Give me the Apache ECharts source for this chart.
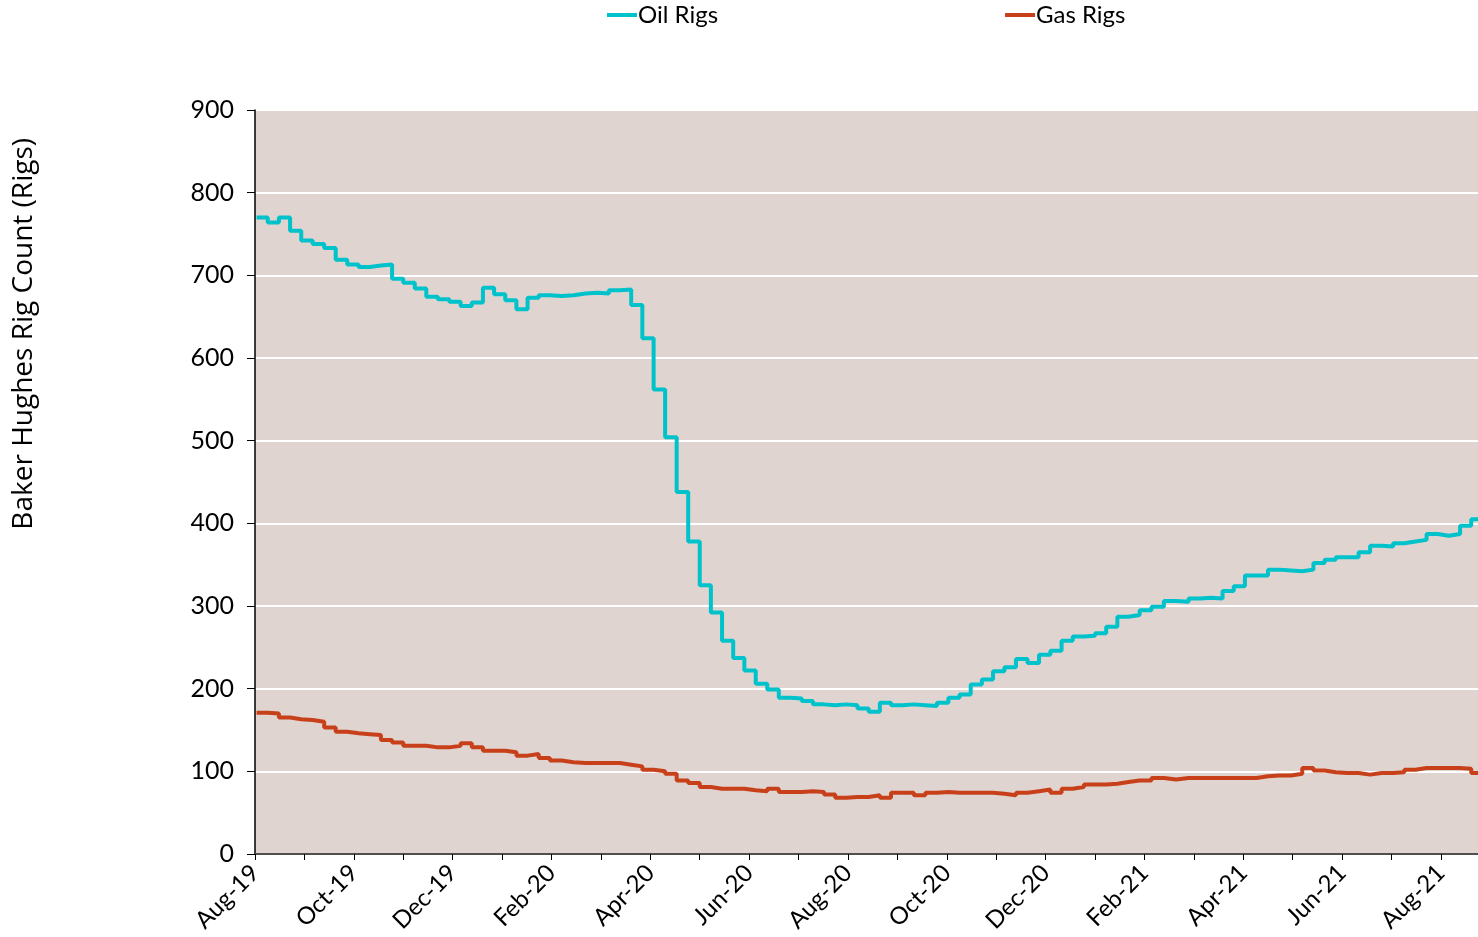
<!DOCTYPE html>
<html>
<head>
<meta charset="utf-8">
<script src="https://cdn.jsdelivr.net/npm/echarts@6/dist/echarts.min.js"></script>
<style>
html,body{margin:0;padding:0;background:#fff;}
#chart{width:1478px;height:937px;}
</style>
</head>
<body>
<div id="chart"></div>
<script>
// Weekly Baker Hughes report dates start Friday 2019-08-02, one value per week
var startDate = '2019-08-02';
var weekCount = 108;
var seriesNames = ['Oil Rigs', 'Gas Rigs'];
var oilRigs = [770,764,770,754,742,738,733,719,713,710,712,713,696,691,684,674,671,668,663,667,
  685,677,670,659,673,676,675,676,678,679,678,682,683,664,624,562,504,438,378,325,
  292,258,237,222,206,199,189,188,185,181,180,181,180,176,172,183,180,181,180,179,
  183,189,193,205,211,221,226,236,231,241,246,258,263,264,267,275,287,289,295,299,
  306,305,309,310,309,318,324,337,337,344,343,342,344,352,356,359,359,365,373,372,
  376,378,380,387,385,387,397,405];
var gasRigs = [171,170,165,163,162,160,153,148,146,145,144,138,135,131,131,129,129,131,134,129,
  125,125,123,119,121,116,113,111,110,110,110,110,108,106,102,100,97,89,86,81,
  79,79,79,77,76,79,75,75,76,75,72,68,69,69,71,68,74,74,71,74,
  75,74,74,74,74,73,71,74,76,78,74,79,81,84,84,85,87,89,89,92,
  90,92,92,92,92,92,92,92,94,95,95,97,104,101,99,98,98,96,98,98,
  99,102,104,104,104,104,103,98];
var monthNames = ['Jan','Feb','Mar','Apr','May','Jun','Jul','Aug','Sep','Oct','Nov','Dec'];
var yTicks = [0,100,200,300,400,500,600,700,800,900];
var axisStartYear = 2019, axisStartMonth = 7; // Aug-19 (0-based month)
var axisEndMonths = 24.75;

function daysInMonth(y, m) { return new Date(Date.UTC(y, m + 1, 0)).getUTCDate(); }
function monthPos(d) {
  var y = d.getUTCFullYear(), m = d.getUTCMonth(), day = d.getUTCDate();
  return (y - axisStartYear) * 12 + (m - axisStartMonth) + (day - 1) / daysInMonth(y, m);
}
var t0 = new Date(startDate + 'T00:00:00Z').getTime();
var xs = [];
for (var i = 0; i < weekCount; i++) xs.push(monthPos(new Date(t0 + i * 7 * 86400000)));
function pairs(vals) {
  var out = vals.map(function (v, i) { return [xs[i], v]; });
  // hold the latest weekly reading to the right edge of the plot
  out.push([axisEndMonths, vals[vals.length - 1]]);
  return out;
}

var chart = echarts.init(document.getElementById('chart'));
var fontMain = 'Lato, "Open Sans", sans-serif';
chart.setOption({
  animation: false,
  backgroundColor: '#ffffff',
  legend: {
    top: -2, left: 602,
    itemWidth: 30, itemHeight: 4, itemGap: 287,
    icon: 'rect',
    textStyle: { fontFamily: fontMain, fontSize: 24, color: '#000', padding: [0, 0, 0, -4] },
    data: seriesNames
  },
  grid: { left: 255, right: 0, top: 110, bottom: 83, containLabel: false,
          show: true, backgroundColor: '#dfd4d0', borderWidth: 0 },
  graphic: [{
    type: 'text', left: 10, top: 138, rotation: Math.PI / 2,
    style: { text: 'Baker Hughes Rig Count (Rigs)', fontFamily: '"Open Sans"', fontSize: 28, fill: '#000' }
  }],
  xAxis: [{
    type: 'value', min: 0, max: axisEndMonths, interval: 1,
    axisLine: { show: true, onZero: false, lineStyle: { color: '#000', width: 1.5 } },
    axisTick: { show: true, length: 6, lineStyle: { color: '#000', width: 1 } },
    splitLine: { show: false },
    axisLabel: {
      rotate: 45, margin: 15, fontFamily: fontMain, fontSize: 24, color: '#000',
      showMaxLabel: false,
      formatter: function (v) {
        if (Math.abs(v - Math.round(v)) > 1e-6) return '';
        var k = Math.round(v);
        if (k % 2 !== 0) return '';
        var total = axisStartMonth + k;
        var yy = axisStartYear + Math.floor(total / 12);
        return monthNames[total % 12] + '-' + String(yy).slice(2);
      }
    }
  }, {
    type: 'value', position: 'top', min: 0, max: axisEndMonths,
    axisLine: { show: true, lineStyle: { color: '#555', width: 1.5 } },
    axisTick: { show: false }, axisLabel: { show: false }, splitLine: { show: false }
  }],
  yAxis: {
    type: 'value', min: yTicks[0], max: yTicks[yTicks.length - 1], interval: 100,
    axisLine: { show: true, lineStyle: { color: '#000', width: 1.5 } },
    axisTick: { show: true, length: 8, lineStyle: { color: '#000', width: 1 } },
    splitLine: { show: true, lineStyle: { color: '#ffffff', width: 2 } },
    axisLabel: { margin: 21, fontFamily: fontMain, fontSize: 25, color: '#000' }
  },
  series: [{
    name: seriesNames[0], type: 'line', step: 'end', data: pairs(oilRigs),
    showSymbol: false, symbol: 'none', clip: true,
    itemStyle: { color: '#00c2ca' },
    lineStyle: { color: '#00c2ca', width: 4 }
  }, {
    name: seriesNames[1], type: 'line', step: 'end', data: pairs(gasRigs),
    showSymbol: false, symbol: 'none', clip: true,
    itemStyle: { color: '#c8401a' },
    lineStyle: { color: '#c8401a', width: 4 }
  }]
});
</script>
</body>
</html>
